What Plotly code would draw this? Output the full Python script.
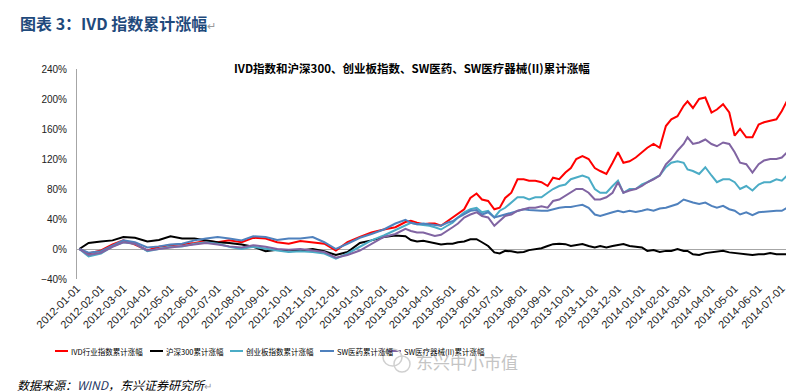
import plotly.graph_objects as go

# ---------------- data (cumulative change, %) ----------------
dates = [
    # 2012-01 .. 2013-03, twice a month
    "2012-01-04", "2012-01-16", "2012-02-01", "2012-02-16", "2012-03-01", "2012-03-16",
    "2012-04-01", "2012-04-16", "2012-05-01", "2012-05-16", "2012-06-01", "2012-06-16",
    "2012-07-01", "2012-07-16", "2012-08-01", "2012-08-16", "2012-09-01", "2012-09-16",
    "2012-10-01", "2012-10-16", "2012-11-01", "2012-11-16", "2012-12-01", "2012-12-16",
    "2013-01-01", "2013-01-16", "2013-02-01", "2013-02-16", "2013-03-01",
    # 2013-03 .. 2014-07, weekly
    "2013-03-08", "2013-03-16", "2013-03-24", "2013-04-01", "2013-04-08", "2013-04-16",
    "2013-04-24", "2013-05-01", "2013-05-08", "2013-05-16", "2013-05-24", "2013-06-01",
    "2013-06-08", "2013-06-16", "2013-06-24", "2013-07-01", "2013-07-08", "2013-07-16",
    "2013-07-24", "2013-08-01", "2013-08-08", "2013-08-16", "2013-08-24", "2013-09-01",
    "2013-09-08", "2013-09-16", "2013-09-24", "2013-10-01", "2013-10-08", "2013-10-16",
    "2013-10-24", "2013-11-01",
    "2013-11-08", "2013-11-16", "2013-11-24", "2013-12-01", "2013-12-08", "2013-12-16",
    "2013-12-24", "2014-01-01", "2014-01-08", "2014-01-16", "2014-01-24", "2014-02-01",
    "2014-02-08", "2014-02-16", "2014-02-24", "2014-03-01", "2014-03-08", "2014-03-16",
    "2014-03-24", "2014-04-01", "2014-04-08", "2014-04-16", "2014-04-24", "2014-05-01",
    "2014-05-08", "2014-05-16", "2014-05-24", "2014-06-01", "2014-06-08", "2014-06-16",
    "2014-06-24", "2014-07-01", "2014-07-08",
]

ivd = [0, -6, -2, 6, 11.5, 6, -2, 3, 5, 6, 8, 10.5, 9, 11.5, 9, 15, 14, 9, 7, 10.5,
       9, 7, -2, 9, 16, 22, 26, 29, 36,
       37.5, 35, 33, 34, 34, 31, 36.6, 42, 47, 53, 68, 74, 66, 64, 53, 55, 68, 75,
       93, 93, 91, 91, 89, 84, 95, 93, 102, 108, 120, 124, 120, 108,
       104, 100, 115, 129, 115, 117, 122, 129, 135, 140, 135, 164, 173, 177, 191, 197,
       188, 200, 202, 182, 186, 193, 182, 151, 160, 149, 149, 166, 169, 171, 173, 184, 198]

hs300 = [0, 8, 10, 11.5, 16, 15, 10, 12, 17, 14, 14, 11.5, 9, 8, 6, 3, -3, -1, -3, -2,
         0, -3, -8, -4, 8, 11.5, 16, 18, 17,
         12, 10, 11, 9, 7, 6, 7, 7, 9, 10, 13, 13, 9, 4, -4.5, -6, -2.5, -3,
         -4.5, -4, -1.5, 0, 1, 4, 6.5, 7, 6.5, 4, 5.5, 6.5, 4, 2,
         4, 2, 4, 5, 6.5, 4, 3, 2, -2.5, -1.5, -4, -2.5, -2.5, 0, -2.5, -2.5,
         -7, -8, -5.5, -4.5, -4, -2.5, -4.5, -5.5, -5.5, -7, -8, -7, -7, -5.5, -7, -7, -7]

gem = [0, -10, -6, 3.5, 9, 7, -3, 0, 3, 3.5, 7, 9, 7, 3, 0, 3, 0, -2, -4, -3,
       -4, -6, -13, -6, 3, 11.5, 18, 25, 31,
       35, 33, 32, 31, 29, 26, 31, 35, 42, 49, 53, 55, 49, 51, 42, 51, 55, 62,
       69, 69, 66, 69, 69, 75, 80, 84, 86, 93, 95, 98, 95, 80,
       75, 75, 84, 91, 75, 80, 80, 86, 89, 93, 98, 109, 115, 117, 115, 106,
       104, 100, 109, 98, 89, 93, 93, 89, 80, 84, 78, 86, 89, 89, 93, 91, 98]

sw_pharma = [0, -5, -3, 5, 11.5, 9, 2, 3.5, 6, 7, 11.5, 14, 16, 14, 11.5, 17, 16, 12, 14, 14,
             16, 9, 0, 7, 15, 20, 26, 34, 39,
             35, 33, 34, 33, 32, 31, 35, 37, 42, 46, 51, 52, 46, 49, 42, 44, 46, 49,
             51, 53, 52, 51, 51, 51, 53, 55, 56, 56, 57.5, 59, 55, 46,
             44, 46, 49, 51, 49, 51, 49.5, 51, 53, 51, 54, 55, 57, 60, 66, 64,
             62, 60, 62, 57.5, 55, 57.5, 53, 51, 46, 49, 45, 49, 49.5, 51, 51, 51, 55]

sw_device = [0, -8, -5, 3, 9, 7, -2, 0, 2, 3.5, 6, 8, 6, 3.5, 2, 5, 3, 0, -1, 0,
             -2, -4, -11.5, -8, -2, 7, 16, 20, 27,
             24, 22, 22, 20, 17.5, 19, 24, 29, 34, 42, 46, 49, 44, 42, 31, 37.5, 44, 46,
             51, 53, 55, 55, 57, 55, 64, 66, 71, 75, 80, 80, 75, 66,
             66, 69, 75, 89, 75, 78, 80, 84, 89, 93, 98, 113, 120, 131, 140, 149,
             140, 142, 146, 140, 137, 142, 140, 129, 115, 113, 102, 113, 118, 120, 120, 122, 129]

series_names = ["IVD行业指数累计涨幅", "沪深300累计涨幅", "创业板指数累计涨幅",
                "SW医药累计涨幅", "SW医疗器械(II)累计涨幅"]
series_values = [ivd, hs300, gem, sw_pharma, sw_device]
series_colors = ["#ff0000", "#000000", "#4bacc6", "#4f81bd", "#8064a2"]

y_ticks = [-40, 0, 40, 80, 120, 160, 200, 240]
y_tick_labels = ["\u221240%", "0%", "40%", "80%", "120%", "160%", "200%", "240%"]

# ---------------- layout geometry (pixels) ----------------
W, H = 794, 392
ML, MR, MT, MB = 69, 14, 61, 121
PW = W - ML - MR
PH = H - MT - MB


def px(x):
    return (x - ML) / PW


def py(y):
    return (H - MB - y) / PH


fig = go.Figure()
for name, vals, color in zip(series_names, series_values, series_colors):
    fig.add_trace(go.Scatter(
        x=dates, y=vals, mode="lines", name=name,
        line=dict(color=color, width=2), showlegend=False,
        hovertemplate="%{x}<br>%{y}%<extra>" + name + "</extra>",
    ))

annotations = []
shapes = []

# main heading
annotations.append(dict(
    x=px(10), y=py(15), xref="paper", yref="paper", xanchor="left", yanchor="middle",
    text="<b>图表 3：IVD 指数累计涨幅</b><span style='color:#9a9a9a;font-size:11px'>↵</span>",
    showarrow=False, font=dict(family="Noto Sans CJK SC", size=16, color="#1f4a7c"),
))

# chart title
annotations.append(dict(
    x=px(404), y=py(60), xref="paper", yref="paper", xanchor="center", yanchor="middle",
    text="<b>IVD指数和沪深300、创业板指数、SW医药、SW医疗器械(II)累计涨幅</b>",
    showarrow=False, font=dict(family="Noto Sans CJK SC", size=11.5, color="#000000"),
))

# manual legend
legend_pos = [(47, 60), (142, 155), (222, 235), (312, 326), (380, 393)]
for (x0, x1), name, color in zip(legend_pos, series_names, series_colors):
    shapes.append(dict(type="line", xref="paper", yref="paper",
                       x0=px(x0), x1=px(x1), y0=py(343), y1=py(343),
                       line=dict(color=color, width=2)))
    annotations.append(dict(
        x=px(x1 + 1), y=py(343), xref="paper", yref="paper", xanchor="left", yanchor="middle",
        text=name, showarrow=False,
        font=dict(family="Noto Sans CJK SC", size=7.5, color="#000000"),
    ))

# watermark (overlaps the last legend entry in the original screenshot)
annotations.append(dict(
    x=px(406), y=py(353), xref="paper", yref="paper", xanchor="left", yanchor="middle",
    text="东兴中小市值", showarrow=False,
    font=dict(family="Noto Sans CJK SC", size=17, color="#c4c4c4"),
))
shapes.append(dict(type="circle", xref="paper", yref="paper",
                   x0=px(375), x1=px(394), y0=py(358), y1=py(341),
                   line=dict(color="#d0d0d0", width=1.5)))
shapes.append(dict(type="circle", xref="paper", yref="paper",
                   x0=px(386), x1=px(402), y0=py(364), y1=py(348),
                   line=dict(color="#d0d0d0", width=1.5)))

# source line
annotations.append(dict(
    x=px(7), y=py(376), xref="paper", yref="paper", xanchor="left", yanchor="middle",
    text="<i>数据来源：<span style='color:#1f3864'>WIND</span>，东兴证券研究所</i>"
         "<span style='color:#9a9a9a;font-size:10px'>↵</span>",
    showarrow=False, font=dict(family="Noto Sans CJK SC", size=12, color="#000000"),
))

fig.update_layout(
    width=W, height=H,
    margin=dict(l=ML, r=MR, t=MT, b=MB, autoexpand=False),
    paper_bgcolor="white", plot_bgcolor="white",
    annotations=annotations, shapes=shapes,
    showlegend=False,
    xaxis=dict(
        type="date", range=["2012-01-01", "2014-07-09"], automargin=False,
        tick0="2012-01-01", dtick="M1", tickformat="%Y-%m-%d", tickangle=-45,
        showgrid=False, showline=False, zeroline=False, ticks="",
        tickfont=dict(family="Liberation Sans", size=11, color="#222222"),
    ),
    yaxis=dict(
        range=[-40, 240], tickmode="array", tickvals=y_ticks, ticktext=y_tick_labels,
        automargin=False, ticklabelstandoff=7,
        showgrid=False, zeroline=True, zerolinecolor="#a6a6a6", zerolinewidth=1,
        showline=True, linecolor="#a6a6a6", linewidth=1, ticks="",
        tickfont=dict(family="Liberation Sans", size=10, color="#222222"),
    ),
)

fig.write_html("out.html")
